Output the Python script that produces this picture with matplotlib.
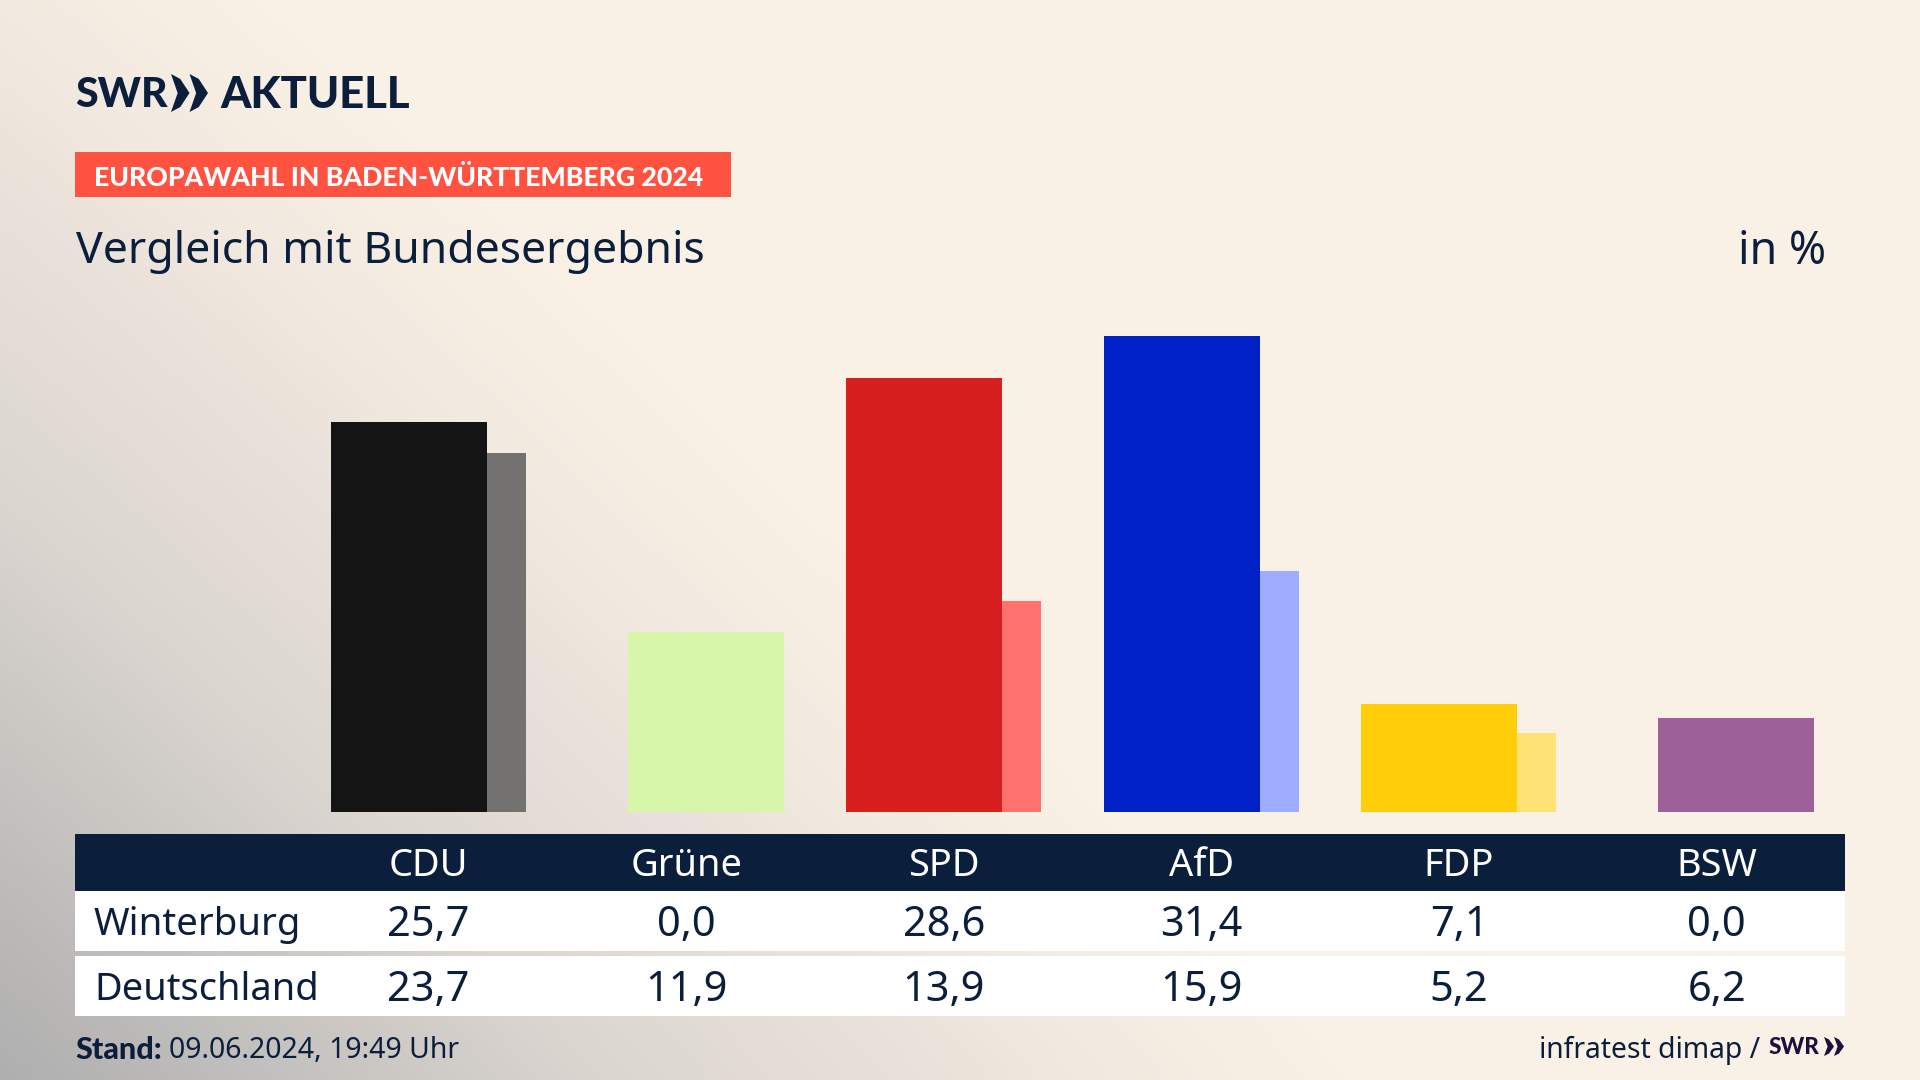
import numpy as np
import matplotlib
matplotlib.use("Agg")
import matplotlib.pyplot as plt
from matplotlib.colors import LinearSegmentedColormap
from matplotlib.patches import Rectangle, Polygon

# ---- data ----
parties = ["CDU", "Grüne", "SPD", "AfD", "FDP", "BSW"]
winterburg = [25.7, 0.0, 28.6, 31.4, 7.1, 0.0]
deutschland = [23.7, 11.9, 13.9, 15.9, 5.2, 6.2]
colors_main = ["#141414", "#8FCB2E", "#D81F1F", "#0021C6", "#FFCD0A", "#6A1B6E"]
colors_light = ["#737270", "#D7F6A9", "#FF716D", "#9EACFF", "#FFE275", "#9D6098"]
row_names = ["Winterburg", "Deutschland"]
title = "Vergleich mit Bundesergebnis"
unit = "in %"
band_text = "EUROPAWAHL IN BADEN-WÜRTTEMBERG 2024"
stand_label = "Stand:"
stand_value = "09.06.2024, 19:49 Uhr"
source = "infratest dimap /"

NAVY = "#0B1F3D"
FONT = "Noto Sans"
W, H = 1920, 1080
px = 72 / 100  # pixels -> points at dpi 100

fig = plt.figure(figsize=(W / 100, H / 100), dpi=100)

# background gradient
bg = fig.add_axes([0, 0, 1, 1], zorder=0)
yy, xx = np.mgrid[0:H:270j, 0:W:480j]
p = 1.05
t = ((xx / 1350.0) ** p + ((H - yy) / 1300.0) ** p) ** (1 / p)
cmap = LinearSegmentedColormap.from_list(
    "bg",
    [(0.0, "#AFAFAF"), (0.45, "#DBD6D0"), (0.8, "#F1E8DF"), (1.0, "#FAF1E6")],
)
bg.imshow(np.clip(t, 0, 1), cmap=cmap, vmin=0, vmax=1, extent=(0, W, H, 0), aspect="auto",
          interpolation="bilinear")
bg.axis("off")

# pixel overlay
ov = fig.add_axes([0, 0, 1, 1], zorder=1)
ov.set_xlim(0, W)
ov.set_ylim(H, 0)
ov.axis("off")
ov.patch.set_alpha(0)


def T(x, y, s, size, color=NAVY, ha="left", va="center", weight="normal", **kw):
    return ov.text(x, y, s, fontsize=size * px, color=color, ha=ha, va=va,
                   fontweight=weight, family=kw.pop("family", FONT), **kw)


def chevrons(x, top, bottom, w, color):
    mid = (top + bottom) / 2
    for k in range(2):
        x0 = x + k * w
        ov.add_patch(Polygon([(x0, top), (x0 + w * 0.5, top + (bottom - top) * 0.13), (x0 + w, mid),
                              (x0 + w * 0.5, bottom - (bottom - top) * 0.13), (x0, bottom),
                              (x0 + w * 0.36, mid)], closed=True, fc=color, ec="none"))


# header
T(75, 95, "SWR", 41, weight=900, family="Lato")
chevrons(171, 74, 112, 18.5, NAVY)
T(220, 95, "AKTUELL", 43.5, weight=900, family="Lato")
ov.add_patch(Rectangle((75, 152), 656, 45, fc="#FF5240", ec="none"))
T(94, 177, band_text, 26.6, color="white", weight=900, family="Lato")
T(76, 252, title, 44.6)
T(1826, 252, unit, 44.7, ha="right")

# table rows
ov.add_patch(Rectangle((75, 834), 1770, 57, fc=NAVY, ec="none"))
ov.add_patch(Rectangle((75, 891), 1770, 60, fc="white", ec="none"))
ov.add_patch(Rectangle((75, 956), 1770, 60, fc="white", ec="none"))
T(94, 925, row_names[0], 38.3)
T(94, 990, row_names[1], 38.0)

# chart axes: one category = 257.6 px, one percentage point = 15.16 px
ax = fig.add_axes([0, 0, 1, 1], zorder=2)
ax.patch.set_alpha(0)
UX, UY = 257.6, 15.16
X0, Y0 = 331.0, 812.0
ax.set_xlim(-X0 / UX, (W - X0) / UX)
ax.set_ylim(-(H - Y0) / UY, Y0 / UY)
ax.axis("off")
idx = np.arange(len(parties))
BAR = 156 / UX
OFF = 39 / UX
ax.bar(idx + OFF, deutschland, width=BAR, align="edge", color=colors_light, zorder=2)
ax.bar(idx, winterburg, width=BAR, align="edge", color=colors_main, zorder=3)

row_y = [(Y0 - 925) / UY, (Y0 - 990) / UY]
head_y = (Y0 - 866) / UY
for i, name in enumerate(parties):
    cx = i + 97.6 / UX
    ax.text(cx, head_y, name, ha="center", va="center", color="white", fontsize=38 * px, family=FONT)
    for vals, y in zip((winterburg, deutschland), row_y):
        ax.text(cx, y, f"{vals[i]:.1f}".replace(".", ","), ha="center", va="center", color=NAVY,
                fontsize=41.5 * px, family=FONT)

# footer
T(75, 1050, stand_label, 30.5, weight=900, family="Lato")
T(169, 1051, stand_value, 28.4)
T(1760, 1050, source, 28.3, ha="right")
T(1769, 1047, "SWR", 22.5, color="#1E0F40", weight=900, family="Lato")
chevrons(1824, 1037, 1056, 10, "#1E0F40")

fig.savefig("out.png", dpi=100)
